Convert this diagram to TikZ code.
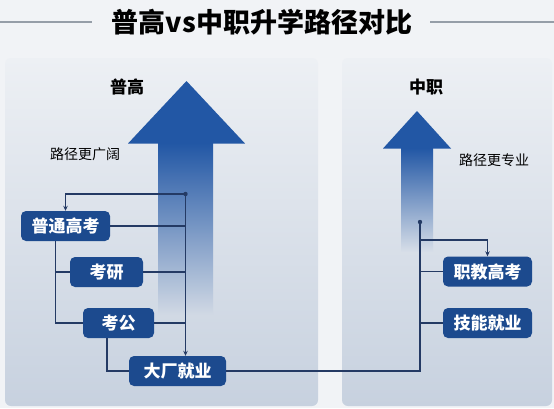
\documentclass[tikz,border=0pt]{standalone}
\usepackage{fontspec}
\setmainfont{Noto Sans CJK SC}
\usetikzlibrary{arrows.meta,positioning}
\definecolor{stageB}{RGB}{28,74,142}
\definecolor{arrowB}{RGB}{34,87,165}
\definecolor{routeC}{RGB}{36,58,100}
\definecolor{pageBg}{RGB}{241,243,246}
\definecolor{panTop}{RGB}{237,240,244}
\definecolor{panBot}{RGB}{199,209,223}
\definecolor{ruleG}{RGB}{150,158,168}

\begin{document}
\begin{tikzpicture}[x=1pt,y=-1pt,>={Stealth[length=5pt,width=4.5pt]},
  stage/.style={fill=stageB,rounded corners=5pt,text=white,inner sep=0pt,
    minimum height=30pt,font=\bfseries\fontsize{17}{17}\selectfont},
  route/.style={draw=routeC,line width=1.3pt},
  panel/.style={top color=panTop,bottom color=panBot,rounded corners=6pt},
  note/.style={font=\fontsize{14}{14}\selectfont,inner sep=0pt}]
\useasboundingbox (0,0) rectangle (554,408);
\fill[pageBg] (0,0) rectangle (554,408);
% title and side rules
\node[font=\bfseries\fontsize{27}{27}\selectfont,inner sep=0pt] (title) at (262,22) {普高vs中职升学路径对比};
\coordinate (ruleL) at (0,22);
\coordinate (ruleR) at (554,22);
\draw[ruleG,line width=1.6pt] (ruleL) -- ([xshift=-20pt]title.west);
\draw[ruleG,line width=1.6pt] ([xshift=18pt]title.east) -- (ruleR);
% two panels
\shade[panel] (5,58) rectangle (318,406);
\shade[panel] (342,58) rectangle (552,406);
% big arrows, the shaft fades out downwards into the panel
\fill[arrowB] (128,143.5) -- (186.5,81) -- (245,143.5) -- cycle;
\shade[top color=arrowB,middle color=arrowB!50!panTop,bottom color=panBot!74!panTop] (158,143) rectangle (213,315);
\fill[arrowB] (383,148.5) -- (417,111) -- (451,148.5) -- cycle;
\shade[top color=arrowB,middle color=arrowB!45!panTop,bottom color=panBot!56!panTop] (401,148) rectangle (433,252);
% labels
\node[font=\bfseries\fontsize{17}{17}\selectfont] (pgLab) at (127,87) {普高};
\node[note] (pgNote) at (85,154) {路径更广阔};
\node[font=\bfseries\fontsize{17}{17}\selectfont] (zzLab) at (426,87) {中职};
\node[note] (zzNote) at (494,160) {路径更专业};
% stages
\node[stage,minimum width=89pt] (gk) at (65.5,226) {普通高考};
\node[stage,minimum width=73pt] (ky) at (106.5,272) {考研};
\node[stage,minimum width=71pt] (kg) at (118.5,323) {考公};
\node[stage,minimum width=97pt] (dc) at (177.5,371) {大厂就业};
\node[stage,minimum width=89pt] (zj) at (487.5,271.5) {职教高考};
\node[stage,minimum width=89pt] (jn) at (487.5,323) {技能就业};
% left routes
\coordinate (dL) at (185.5,194);
\fill[routeC] (dL) circle (2.2pt);
\draw[route,->] (dL) -| (gk.north);
\draw[route,->] (dL) -- (dL |- dc.north);
\draw[route] (gk.east) -- (gk.east -| dL);
\draw[route] (ky.east) -- (ky.east -| dL);
\draw[route] (kg.east) -- (kg.east -| dL);
\draw[route] ([xshift=-10pt]gk.south) |- (kg.west);
\draw[route] ([xshift=-10pt]gk.south |- ky.west) -- (ky.west);
\draw[route] ([xshift=-11.5pt]kg.south) |- (dc.west);
% right routes
\coordinate (dR) at (420,222);
\coordinate (bR) at (420,240);
\draw[route] (dc.east) -| (dR);
\fill[routeC] (dR) circle (2.2pt);
\draw[route,->] (bR) -| (zj.north);
\draw[route] (zj.west -| dR) -- (zj.west);
\draw[route] (jn.west -| dR) -- (jn.west);
\end{tikzpicture}
\end{document}
